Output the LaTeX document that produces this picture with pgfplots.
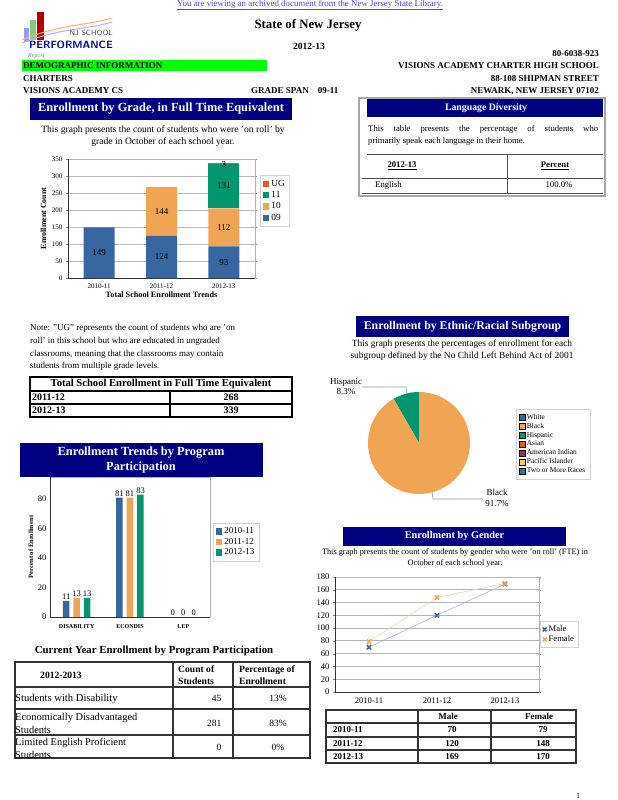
\documentclass[border=0pt]{standalone}
\usepackage{pgfplots}
\pgfplotsset{compat=1.18}
\usepackage{fontspec}
\setmainfont{Liberation Serif}
\definecolor{navy}{RGB}{0,0,128}
\definecolor{cA}{RGB}{56,102,160}
\definecolor{cB}{RGB}{240,165,85}
\definecolor{cC}{RGB}{0,150,110}
\definecolor{cD}{RGB}{225,90,30}
\definecolor{cE}{RGB}{160,40,110}
\definecolor{cF}{RGB}{255,205,90}
\definecolor{cG}{RGB}{40,120,150}
\definecolor{linkblue}{RGB}{70,70,235}
\definecolor{lgreen}{RGB}{0,255,0}
\newcommand{\fs}[2]{\fontsize{#1}{#2}\selectfont}
\begin{document}
\begin{tikzpicture}[x=1pt,y=-1pt]
\path[use as bounding box, fill=white] (0,0) rectangle (618,800);
% ---------- header ----------
\node[text=linkblue, font=\fs{8.9}{10}] at (310,5) {\underline{You are viewing an archived document from the New Jersey State Library.}};
% logo
\fill[green!60!black!50] (30,20) rectangle (36,40);
\fill[red!70!black] (37,12) rectangle (44,40);
\fill[blue!40] (24,28) rectangle (29,42);
\draw[orange!60, line width=1pt] (22,40) .. controls (60,24) and (85,26) .. (112,18);
\draw[blue!30, line width=1pt] (22,43) .. controls (60,28) and (85,30) .. (112,22);
\node[anchor=east, inner sep=0pt, font=\sffamily\fs{7.5}{8}, text=black!70] at (113,33) {NJ SCHOOL};
\node[anchor=east, inner sep=0pt, font=\bfseries\sffamily\fs{10.5}{11}, text=blue!60!black] at (113,45) {PERFORMANCE};
\node[anchor=west, inner sep=0pt, font=\itshape\fs{6}{7}, text=black!50] at (28,56) {Report};
\node[font=\bfseries\fs{12.8}{14}] at (308,25) {State of New Jersey};
\node[font=\bfseries\fs{9.5}{10}] at (309,46) {2012-13};
\node[anchor=east, inner sep=0pt, font=\bfseries\fs{9}{10}] at (599,54) {80-6038-923};
\fill[lgreen] (22,60) rectangle (267,71);
\node[anchor=west, inner sep=0pt, font=\bfseries\fs{9}{10}] at (23,66) {DEMOGRAPHIC INFORMATION};
\node[anchor=east, inner sep=0pt, font=\bfseries\fs{9}{10}] at (599,66) {VISIONS ACADEMY CHARTER HIGH SCHOOL};
\node[anchor=west, inner sep=0pt, font=\bfseries\fs{9}{10}] at (23,79) {CHARTERS};
\node[anchor=east, inner sep=0pt, font=\bfseries\fs{9}{10}] at (599,79) {88-108 SHIPMAN STREET};
\node[anchor=west, inner sep=0pt, font=\bfseries\fs{9}{10}] at (23,91) {VISIONS ACADEMY CS};
\node[anchor=west, inner sep=0pt, font=\bfseries\fs{9}{10}] at (251,91) {GRADE SPAN\quad 09-11};
\node[anchor=east, inner sep=0pt, font=\bfseries\fs{9}{10}] at (599,91) {NEWARK, NEW JERSEY 07102};
% ---------- Enrollment by grade ----------
\fill[navy] (30,98) rectangle (292,120);
\node[text=white, font=\bfseries\fs{12.4}{14}] at (161,109) {Enrollment by Grade, in Full Time Equivalent};
\node[align=center, font=\fs{9.6}{11.5}] at (163,136) {This graph presents the count of students who were 'on roll' by\\grade in October of each school year.};
\begin{axis}[at={(68pt,-278pt)}, anchor=south west, scale only axis,
  width=187pt, height=119pt, ybar stacked, bar width=31pt,
  xmin=-0.5, xmax=2.5, ymin=0, ymax=350, ytick={0,50,...,350},
  xtick={0,1,2}, xticklabels={2010-11,2011-12,2012-13},
  /pgf/number format/assume math mode=true,
  tick label style={font=\fs{7}{8}}, xtick style={draw=none},
  tick align=outside, major tick length=2pt,
  ymajorgrids, grid style={gray!55, line width=0.8pt},
  axis line style={gray!60},
  ylabel={Enrollment Count}, ylabel style={font=\bfseries\fs{7.9}{9}, yshift=-1pt},
  xlabel={Total School Enrollment Trends}, xlabel style={font=\bfseries\fs{8.2}{9}, yshift=3pt},
  reverse legend,
  legend style={at={(1.027,0.866)}, anchor=north west, font=\fs{9.3}{10}, draw=gray!35, row sep=-0.3pt, inner sep=2.8pt},
  legend image code/.code={\fill[#1] (0pt,-3.2pt) rectangle (6.4pt,3.2pt);},
  legend cell align=left]
\addplot[fill=cA, draw=none] coordinates {(0,149) (1,124) (2,93)};
\addlegendentry{09}
\addplot[fill=cB, draw=none] coordinates {(0,0) (1,144) (2,112)};
\addlegendentry{10}
\addplot[fill=cC, draw=none] coordinates {(0,0) (1,0) (2,131)};
\addlegendentry{11}
\addplot[fill=cD, draw=none] coordinates {(0,0) (1,0) (2,3)};
\addlegendentry{UG}
\draw[black!80, line width=0.8pt] (axis description cs:0,1) -- (axis description cs:0,0) -- (axis description cs:1,0);
\end{axis}
% segment labels (same frame, drawn on top)
\begin{axis}[at={(68pt,-278pt)}, anchor=south west, scale only axis,
  width=187pt, height=119pt, hide axis,
  xmin=-0.5, xmax=2.5, ymin=0, ymax=350]
\addplot[draw=none, mark=none, nodes near coords, point meta=explicit symbolic,
  nodes near coords align={center}, nodes near coords style={font=\fs{9}{10}}]
  coordinates {(0,74.5)[149] (1,62)[124] (1,196)[144] (2,46.5)[93] (2,149)[112] (2,270.5)[131] (2,334)[3]};
\end{axis}
% ---------- Language diversity ----------
\draw[gray!70, line width=1.5pt] (359,98) rectangle (605,196);
\fill[navy] (367,99) rectangle (603,117);
\node[text=white, font=\bfseries\fs{9.8}{11}] at (486,108) {Language Diversity};
\node[anchor=north west, align=left, inner sep=0pt, font=\fs{8.7}{12}] at (368,125.5) {\makebox[230pt][s]{This table presents the percentage of students who}\\primarily speak each language in their home.};
\draw[black!70, line width=1pt] (367,154) -- (603,154);
\draw[black!70, line width=1pt] (362,178) -- (603,178);
\draw[black!70, line width=1pt] (362,193) -- (603,193);
\draw[black!70, line width=1pt] (507,154) -- (507,193);
\node[font=\bfseries\fs{8.7}{10}] at (402,166) {\underline{2012-13}};
\node[font=\bfseries\fs{8.7}{10}] at (555,166) {\underline{Percent}};
\node[anchor=west, inner sep=0pt, font=\fs{8.7}{10}] at (375,185) {English};
\node[font=\fs{8.7}{10}] at (559,185) {100.0\%};
% ---------- Note ----------
\node[anchor=north west, align=left, inner sep=0pt, font=\fs{9}{12.8}] at (30,324) {Note: "UG" represents the count of students who are 'on\\roll' in this school but who are educated in ungraded\\classrooms, meaning that the classrooms may contain\\students from multiple grade levels.};
% ---------- Total table ----------
\draw[black, line width=1.5pt] (30,377) rectangle (292,417);
\draw[black, line width=1.2pt] (30,391) -- (292,391);
\draw[black, line width=1.2pt] (30,404) -- (292,404);
\draw[black, line width=1.2pt] (170,391) -- (170,417);
\node[font=\bfseries\fs{10.6}{11}] at (161,384) {Total School Enrollment in Full Time Equivalent};
\node[anchor=west, inner sep=0pt, font=\bfseries\fs{10}{11}] at (32,397.5) {2011-12};
\node[font=\bfseries\fs{10}{11}] at (231,397.5) {268};
\node[anchor=west, inner sep=0pt, font=\bfseries\fs{10}{11}] at (32,410.5) {2012-13};
\node[font=\bfseries\fs{10}{11}] at (231,410.5) {339};
% ---------- Ethnic ----------
\fill[navy] (356,316) rectangle (569,337);
\node[text=white, font=\bfseries\fs{11.8}{13}] at (462.5,326.5) {Enrollment by Ethnic/Racial Subgroup};
\node[align=center, font=\fs{9.4}{12}] at (462,350) {This graph presents the percentages of enrollment for each\\subgroup defined by the No Child Left Behind Act of 2001};
\begin{axis}[at={(419pt,-443pt)}, anchor=center, scale only axis,
  width=102pt, height=102pt, hide axis,
  xmin=-1, xmax=1, ymin=-1, ymax=1,
  legend style={at={(1.45,0.835)}, anchor=north west, font=\fs{7.4}{8}, draw=gray!35, row sep=-1.6pt, inner sep=3pt},
  legend cell align=left,
  legend image code/.code={\fill[#1] (0pt,-2.7pt) rectangle (5.4pt,2.7pt);}]
\pgfmathsetmacro{\hisp}{8.3}
\pgfmathsetmacro{\blk}{91.7}
\pgfmathsetmacro{\angA}{90+3.6*\hisp}
\pgfmathsetmacro{\angB}{\angA+3.6*\blk}
\fill[cC] (axis cs:0,0) -- ++(90:51pt) arc[start angle=90, end angle=\angA, radius=51pt] -- cycle;
\fill[cB] (axis cs:0,0) -- ++(\angA:51pt) arc[start angle=\angA, end angle=\angB, radius=51pt] -- cycle;
\addlegendimage{fill=cA}\addlegendentry{White}
\addlegendimage{fill=cB}\addlegendentry{Black}
\addlegendimage{fill=cC}\addlegendentry{Hispanic}
\addlegendimage{fill=cD}\addlegendentry{Asian}
\addlegendimage{fill=cE}\addlegendentry{American Indian}
\addlegendimage{fill=cF}\addlegendentry{Pacific Islander}
\addlegendimage{fill=cG}\addlegendentry{Two or More Races}
\end{axis}
\draw[gray!80, line width=0.6pt] (362,387) -- (406,387) -- (407,394);
\node[font=\fs{9}{10.5}, align=center] at (346,386.5) {Hispanic\\8.3\%};
\draw[gray!80, line width=0.6pt] (432,491) -- (433,499) -- (483,499);
\node[font=\fs{9}{10.5}, align=center] at (497,498) {Black\\91.7\%};
% ---------- Program participation ----------
\begin{axis}[at={(50pt,-617pt)}, anchor=south west, scale only axis,
  width=160pt, height=140pt, ybar=4pt, bar width=6.5pt,
  xmin=-0.5, xmax=2.5, ymin=0, ymax=95, ytick={0,20,40,60,80},
  xtick={0,1,2}, xticklabels={DISABILITY,ECONDIS,LEP},
  /pgf/number format/assume math mode=true,
  xticklabel style={font=\bfseries\fs{6}{7}},
  yticklabel style={font=\fs{8.5}{9}},
  xtick style={draw=none}, ytick style={draw=none},
  axis line style={gray!60},
  ylabel={Percent of Enrollment}, ylabel style={font=\bfseries\fs{6.6}{7}, yshift=-2pt},
  nodes near coords, nodes near coords style={font=\fs{8.5}{9}, inner sep=1pt},
  legend style={at={(1.02,0.67)}, anchor=north west, font=\fs{9}{10}, draw=gray!35, row sep=-1pt, inner sep=2.5pt},
  legend cell align=left,
  legend image code/.code={\fill[#1] (0pt,-3.2pt) rectangle (6.4pt,3.2pt);}]
\addplot[fill=cA, draw=none] coordinates {(0,11) (1,81) (2,0)};
\addlegendentry{2010-11}
\addplot[fill=cB, draw=none] coordinates {(0,13) (1,81) (2,0)};
\addlegendentry{2011-12}
\addplot[fill=cC, draw=none] coordinates {(0,13) (1,83) (2,0)};
\addlegendentry{2012-13}
\draw[black!80, line width=0.8pt] (axis description cs:0,1) -- (axis description cs:0,0) -- (axis description cs:1,0);
\end{axis}
\fill[navy] (20,443) rectangle (263,477);
\node[text=white, align=center, font=\bfseries\fs{12.4}{14.5}] at (141,460) {Enrollment Trends by Program\\Participation};
% ---------- Current year table ----------
\node[font=\bfseries\fs{10.8}{12}] at (154,651) {Current Year Enrollment by Program Participation};
\draw[black!80, line width=1.2pt] (15,662) rectangle (310,758);
\draw[black!80, line width=1.2pt] (15,687) -- (310,687);
\draw[black!80, line width=1.2pt] (15,709) -- (310,709);
\draw[black!80, line width=1.2pt] (15,735) -- (310,735);
\draw[black!80, line width=1.2pt] (173,662) -- (173,758);
\draw[black!80, line width=1.2pt] (233,662) -- (233,758);
\node[font=\bfseries\fs{9.6}{11}] at (61,675) {2012-2013};
\node[anchor=west, align=left, inner sep=0pt, font=\bfseries\fs{9.6}{12.5}] at (178,675) {Count of\\Students};
\node[anchor=west, align=left, inner sep=0pt, font=\bfseries\fs{9.6}{12.5}] at (239,675) {Percentage of\\Enrollment};
\node[anchor=west, inner sep=0pt, font=\fs{10.6}{12}] at (15,699) {Students with Disability};
\node[anchor=east, font=\fs{9.5}{10}] at (225,698) {45};
\node[font=\fs{9.5}{10}] at (278,698) {13\%};
\node[anchor=west, align=left, inner sep=0pt, font=\fs{10.4}{12.8}] at (15,723.5) {Economically Disadvantaged\\Students};
\node[anchor=east, font=\fs{9.5}{10}] at (225,723) {281};
\node[font=\fs{9.5}{10}] at (278,723) {83\%};
\node[anchor=west, align=left, inner sep=0pt, font=\fs{10.4}{12.8}] at (15,748) {Limited English Proficient\\Students};
\node[anchor=east, font=\fs{9.5}{10}] at (225,747) {0};
\node[font=\fs{9.5}{10}] at (278,747) {0\%};
% ---------- Gender ----------
\fill[navy] (343,527) rectangle (566,546);
\node[text=white, font=\bfseries\fs{10.3}{11}] at (454.5,536.5) {Enrollment by Gender};
\node[align=center, font=\fs{8.3}{11.5}] at (455,558) {This graph presents the count of students by gender who were 'on roll' (FTE) in\\October of each school year.};
\begin{axis}[at={(335pt,-692pt)}, anchor=south west, scale only axis,
  width=204pt, height=115pt,
  xmin=-0.5, xmax=2.5, ymin=0, ymax=180, ytick={0,20,...,180},
  xtick={0,1,2}, xticklabels={2010-11,2011-12,2012-13},
  /pgf/number format/assume math mode=true,
  tick label style={font=\fs{8.6}{9}}, xtick style={draw=none},
  tick align=outside, major tick length=2pt,
  ymajorgrids, grid style={gray!60, line width=0.8pt},
  axis line style={gray!60},
  legend style={at={(1.005,0.617)}, anchor=north west, font=\fs{8.6}{9.5}, draw=gray!35, row sep=-1.5pt, inner sep=2.5pt},
  legend cell align=left]
\addplot[color=cA!45, line width=0.6pt, mark=x, mark size=3pt, mark options={draw=cA, line width=1.5pt}, forget plot] coordinates {(0,70) (1,120) (2,169)};
\addplot[color=cB!55, line width=0.6pt, mark=x, mark size=3pt, mark options={draw=cB, line width=1.5pt}, forget plot] coordinates {(0,79) (1,148) (2,170)};
\addlegendimage{only marks, mark=x, mark size=2.8pt, mark options={draw=cA, line width=1.4pt}}
\addlegendentry{Male}
\addlegendimage{only marks, mark=x, mark size=2.8pt, mark options={draw=cB, line width=1.4pt}}
\addlegendentry{Female}
\draw[black!80, line width=0.8pt] (axis description cs:0,1) -- (axis description cs:0,0) -- (axis description cs:1,0);
\end{axis}
% gender table
\draw[black!80, line width=1.2pt] (326,710) rectangle (576,763);
\draw[black!80, line width=1.2pt] (326,723) -- (576,723);
\draw[black!80, line width=1.2pt] (326,737) -- (576,737);
\draw[black!80, line width=1.2pt] (326,750) -- (576,750);
\draw[black!80, line width=1.2pt] (418,710) -- (418,763);
\draw[black!80, line width=1.2pt] (491,710) -- (491,763);
\node[font=\bfseries\fs{9}{10}] at (448,716.5) {Male};
\node[font=\bfseries\fs{9}{10}] at (539,716.5) {Female};
\node[anchor=west, inner sep=0pt, font=\bfseries\fs{9}{10}] at (333,730) {2010-11};
\node[anchor=west, inner sep=0pt, font=\bfseries\fs{9}{10}] at (333,743.5) {2011-12};
\node[anchor=west, inner sep=0pt, font=\bfseries\fs{9}{10}] at (333,756.5) {2012-13};
\node[font=\bfseries\fs{9}{10}] at (452,730) {70};
\node[font=\bfseries\fs{9}{10}] at (452,743.5) {120};
\node[font=\bfseries\fs{9}{10}] at (452,756.5) {169};
\node[font=\bfseries\fs{9}{10}] at (543,730) {79};
\node[font=\bfseries\fs{9}{10}] at (543,743.5) {148};
\node[font=\bfseries\fs{9}{10}] at (543,756.5) {170};
\node[font=\fs{8}{9}] at (578,796) {1};
\end{tikzpicture}
\end{document}
